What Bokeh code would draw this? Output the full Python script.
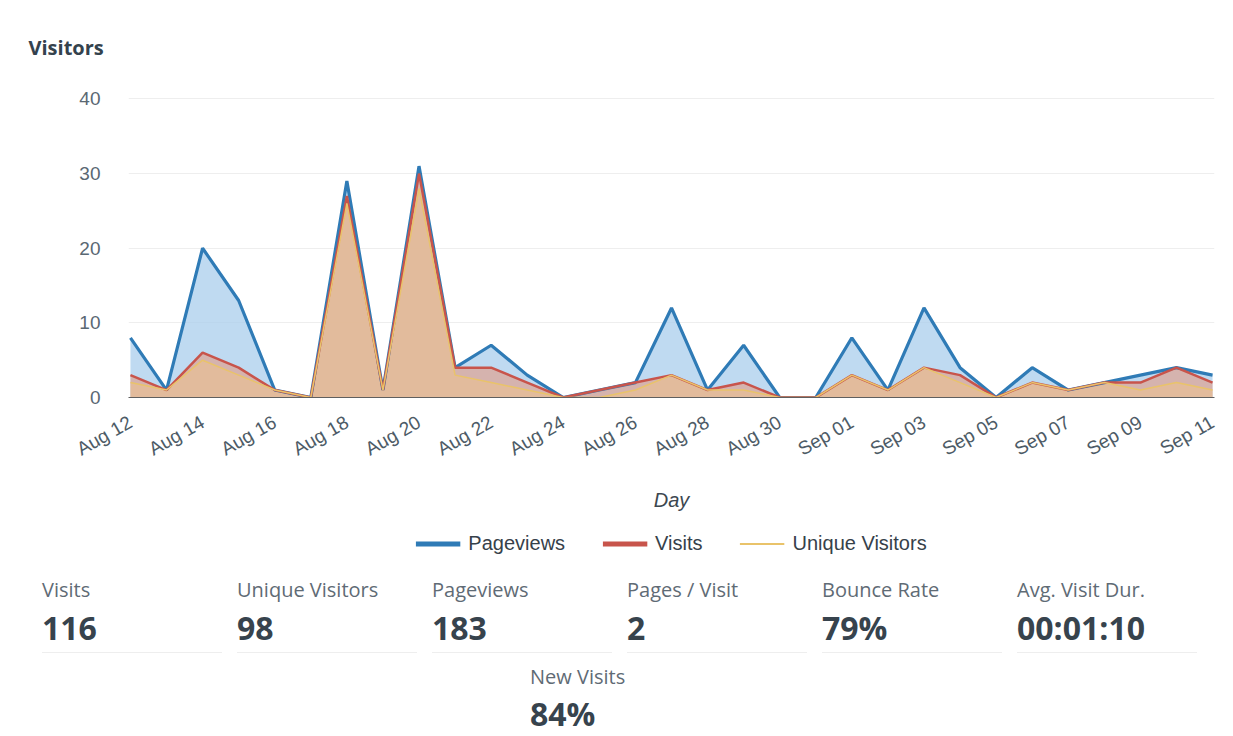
import pandas as pd
from bokeh.plotting import figure
from bokeh.models import Range1d, FixedTicker, DatetimeTickFormatter, Legend, LegendItem, Title, Div
from bokeh.layouts import column
from bokeh.embed import file_html
from bokeh.resources import INLINE

# ---------------- data ----------------
dates = pd.date_range("2023-08-12", "2023-09-11", freq="D")
pageviews = [8, 1, 20, 13, 1, 0, 29, 1, 31, 4, 7, 3, 0, 1, 2, 12, 1, 7, 0, 0,
             8, 1, 12, 4, 0, 4, 1, 2, 3, 4, 3]
visits = [3, 1, 6, 4, 1, 0, 27, 1, 30, 4, 4, 2, 0, 1, 2, 3, 1, 2, 0, 0,
          3, 1, 4, 3, 0, 2, 1, 2, 2, 4, 2]
unique_visitors = [2, 1, 5, 3, 1, 0, 26, 1, 28, 3, 2, 1, 0, 0, 1, 3, 1, 1, 0, 0,
                   3, 1, 4, 2, 0, 2, 1, 2, 1, 2, 1]
tick_dates = list(dates[::2])
y_ticks = [0, 10, 20, 30, 40]
series_names = ["Pageviews", "Visits", "Unique Visitors"]

stat_labels = ["Visits", "Unique Visitors", "Pageviews", "Pages / Visit",
               "Bounce Rate", "Avg. Visit Dur."]
stat_values = ["116", "98", "183", "2", "79%", "00:01:10"]
extra_label = "New Visits"
extra_value = "84%"

W = 1233
BL, BR = 128, 19
blue, red, yellow = "#2f7bb6", "#c8544b", "#e9c36a"

# ---------------- main chart ----------------
p = figure(width=W, height=513, x_axis_type="datetime",
           output_backend="svg", toolbar_location=None,
           min_border_left=BL, min_border_right=BR, min_border_top=91,
           min_border_bottom=112)
pad = pd.Timedelta(hours=1.3)
p.x_range = Range1d((dates[0] - pad).to_pydatetime(), (dates[-1] + pad).to_pydatetime())
p.y_range = Range1d(0, 41)
p.outline_line_color = None
p.background_fill_color = "white"
p.border_fill_color = "white"

p.title = Title(text="Visitors", align="left", offset=-100, standoff=61,
                text_font="Open Sans", text_font_size="20px",
                text_font_style="bold", text_color="#34424d")

p.varea(x=dates, y1=0, y2=pageviews, fill_color="#a9cdec", fill_alpha=0.75)
p.varea(x=dates, y1=0, y2=visits, fill_color="#e49a82", fill_alpha=0.6)
p.varea(x=dates, y1=0, y2=unique_visitors, fill_color="#efc48a", fill_alpha=0.5)
p.line(x=dates, y=pageviews, line_color=blue, line_width=3.2)
p.line(x=dates, y=visits, line_color=red, line_width=2.5)
p.line(x=dates, y=unique_visitors, line_color=yellow, line_width=1.5)

p.xaxis.ticker = FixedTicker(ticks=[d.timestamp() * 1000 for d in tick_dates])
p.xaxis.formatter = DatetimeTickFormatter(days="%b %d", months="%b %d", hours="%b %d",
                                          years="%b %d")
p.xaxis.major_label_orientation = 0.52
p.xaxis.major_tick_line_color = None
p.xaxis.minor_tick_line_color = None
p.xaxis.axis_line_color = "#5f5f5f"
p.xaxis.major_label_text_font = "Liberation Sans"
p.xaxis.major_label_text_font_size = "19px"
p.xaxis.major_label_text_color = "#4d5b66"
p.xaxis.major_label_standoff = 17
p.xaxis.axis_label = "Day"
p.xaxis.axis_label_text_font = "Liberation Sans"
p.xaxis.axis_label_text_font_size = "20px"
p.xaxis.axis_label_text_font_style = "italic"
p.xaxis.axis_label_text_color = "#3c4750"
p.xaxis.axis_label_standoff = 17

p.yaxis.ticker = FixedTicker(ticks=y_ticks)
p.yaxis.axis_line_color = None
p.yaxis.major_tick_line_color = None
p.yaxis.minor_tick_line_color = None
p.yaxis.major_label_text_font = "Liberation Sans"
p.yaxis.major_label_text_font_size = "19px"
p.yaxis.major_label_text_color = "#5a6873"
p.yaxis.major_label_standoff = 22

p.xgrid.grid_line_color = None
p.ygrid.grid_line_color = "#eeeeee"

# ---------------- legend strip ----------------
lg = figure(width=W, height=60, output_backend="svg", toolbar_location=None,
            x_range=Range1d(0, 1), y_range=Range1d(0, 1),
            x_axis_location=None, y_axis_location=None,
            min_border_left=BL, min_border_right=BR, min_border_top=0, min_border_bottom=0)
lg.grid.grid_line_color = None
lg.outline_line_color = None
# legend swatches only: their points lie outside the strip's ranges
lr_pv = lg.line(x=[5, 6], y=[5, 6], line_color=blue, line_width=5)
lr_v = lg.line(x=[5, 6], y=[5, 6], line_color=red, line_width=5)
lr_u = lg.line(x=[5, 6], y=[5, 6], line_color=yellow, line_width=2)
legend = Legend(items=[LegendItem(label=series_names[0], renderers=[lr_pv]),
                       LegendItem(label=series_names[1], renderers=[lr_v]),
                       LegendItem(label=series_names[2], renderers=[lr_u])],
                orientation="horizontal", location="center",
                glyph_width=45, glyph_height=20, spacing=37, label_standoff=8,
                label_text_font="Liberation Sans", label_text_font_size="20px",
                label_text_color="#36414a", border_line_color=None,
                background_fill_alpha=0, margin=0, padding=2)
lg.add_layout(legend)

# ---------------- statistics block (HTML) ----------------
SH = 163
col_x = [37 + 195 * i for i in range(len(stat_labels))]
lab_css = ("position:absolute;font-family:'Open Sans';font-size:20px;color:#5f6b75;"
           "line-height:24px;white-space:nowrap;")
val_css = ("position:absolute;font-family:'Open Sans';font-size:32px;font-weight:bold;"
           "color:#37434d;line-height:28px;white-space:nowrap;")
parts = []
for x, lab, val in zip(col_x, stat_labels, stat_values):
    parts.append(f"<div style=\"{lab_css}left:{x}px;top:0px;\">{lab}</div>")
    parts.append(f"<div style=\"{val_css}left:{x}px;top:36px;\">{val}</div>")
    parts.append(f"<div style=\"position:absolute;left:{x}px;top:74px;width:180px;"
                 f"height:1px;background:#eeeeee;\"></div>")
parts.append(f"<div style=\"{lab_css}left:525px;top:87px;\">{extra_label}</div>")
parts.append(f"<div style=\"{val_css}left:525px;top:122px;\">{extra_value}</div>")
html = (f"<div style=\"position:relative;width:{W - 10}px;height:{SH - 10}px;background:white;\">"
        + "".join(parts) + "</div>")
stats = Div(text=html, width=W, height=SH)

layout = column(p, lg, stats, spacing=0)
open("out.html", "w").write(file_html(layout, INLINE))
